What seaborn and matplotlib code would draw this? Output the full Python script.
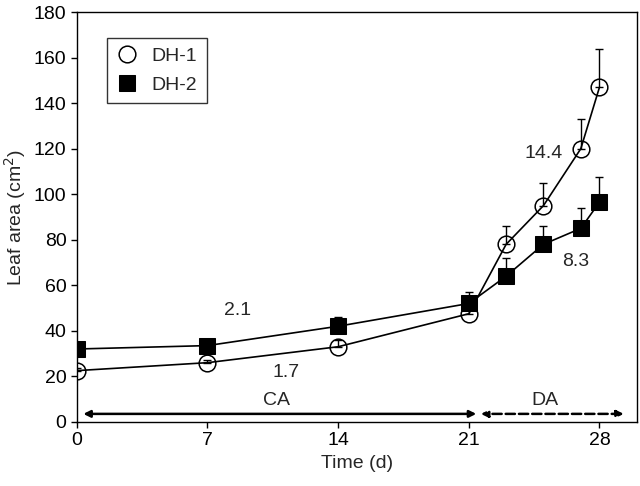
import numpy as np
import pandas as pd
import matplotlib
matplotlib.use("Agg")
import matplotlib.pyplot as plt
import seaborn as sns

days = [0, 7, 14, 21, 23, 25, 27, 28]
dh1_area = [22.5, 26, 33, 47.5, 78, 95, 120, 147]
dh1_err = [1, 1, 3, 2, 8, 10, 13, 17]
dh2_area = [32, 33.5, 42, 52, 64, 78, 85, 96.5]
dh2_err = [2, 2, 4, 5, 8, 8, 9, 11]
y_ticks = [0, 20, 40, 60, 80, 100, 120, 140, 160, 180]
x_ticks = [0, 7, 14, 21, 28]

sns.set_theme(style="ticks")
plt.rcParams['font.family'] = ['Liberation Sans', 'DejaVu Sans']
fs = 14

df = pd.DataFrame({
    'Time': days * 2,
    'Area': dh1_area + dh2_area,
    'Line': ['DH-1'] * len(days) + ['DH-2'] * len(days),
})

fig = plt.figure(figsize=(6.4, 4.86), dpi=100)
ax = fig.add_axes([0.12, 0.132, 0.875, 0.843])

# upper error bars only
ax.errorbar(days, dh1_area, yerr=[np.zeros(len(days)), dh1_err], fmt='none',
            ecolor='black', elinewidth=1, capsize=3, capthick=1, zorder=1)
ax.errorbar(days, dh2_area, yerr=[np.zeros(len(days)), dh2_err], fmt='none',
            ecolor='black', elinewidth=1, capsize=3, capthick=1, zorder=1)

sns.lineplot(data=df[df.Line == 'DH-1'], x='Time', y='Area', ax=ax, color='black',
             lw=1.2, marker='o', markersize=12, markerfacecolor='none',
             markeredgecolor='black', markeredgewidth=1.1, label='DH-1', zorder=3)
sns.lineplot(data=df[df.Line == 'DH-2'], x='Time', y='Area', ax=ax, color='black',
             lw=1.2, marker='s', markersize=12, markerfacecolor='black',
             markeredgecolor='black', label='DH-2', zorder=4)

# period arrows
ax.annotate('', xy=(0.35, 3.5), xytext=(21.4, 3.5),
            arrowprops=dict(arrowstyle='<|-|>', color='black', lw=1.8,
                            mutation_scale=10, shrinkA=0, shrinkB=0))
ax.annotate('', xy=(21.65, 3.5), xytext=(29.3, 3.5),
            arrowprops=dict(arrowstyle='<|-|>', color='black', lw=1.8, ls='--',
                            mutation_scale=10, shrinkA=0, shrinkB=0))
ax.text(10.7, 5.5, 'CA', ha='center', va='bottom', fontsize=fs)
ax.text(25.1, 5.5, 'DA', ha='center', va='bottom', fontsize=fs)

ax.text(8.6, 49, '2.1', ha='center', va='center', fontsize=fs)
ax.text(11.2, 21.5, '1.7', ha='center', va='center', fontsize=fs)
ax.text(25.0, 118, '14.4', ha='center', va='center', fontsize=fs)
ax.text(26.7, 70.5, '8.3', ha='center', va='center', fontsize=fs)

ax.set_xlim(0, 30)
ax.set_ylim(0, 180)
ax.set_xticks(x_ticks)
ax.set_yticks(y_ticks)
ax.tick_params(direction='out', length=4, width=1, labelsize=fs, colors='black')
for s in ax.spines.values():
    s.set_color('black')
    s.set_linewidth(1)
ax.set_xlabel('Time (d)', fontsize=fs)
ax.set_ylabel('Leaf area (cm$^2$)', fontsize=fs)

leg = ax.legend(loc='upper left', bbox_to_anchor=(0.054, 0.937), fontsize=fs,
                frameon=True, fancybox=False, edgecolor='black',
                handlelength=1.1, handletextpad=0.7, borderpad=0.5,
                labelspacing=0.55, borderaxespad=0)
leg.get_frame().set_linewidth(1)
for h in leg.legend_handles:
    h.set_linestyle('none')

fig.savefig('out.png', dpi=100)
